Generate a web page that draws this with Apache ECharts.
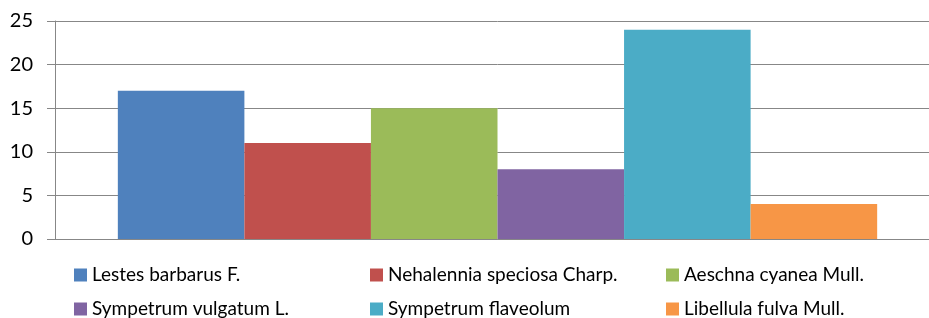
<!DOCTYPE html>
<html>
<head>
<meta charset="utf-8">
<script src="https://cdn.jsdelivr.net/npm/echarts@6/dist/echarts.min.js"></script>
<style>
  html, body { margin: 0; padding: 0; background: #fff; overflow: hidden; }
  /* 绘图区右侧超出画面，所以容器比窗口宽一些 */
  #chart { width: 940px; height: 318px; }
</style>
</head>
<body>
<div id="chart"></div>
<script>
// 数据
const seriesNames = ['Lestes barbarus F.', 'Nehalennia speciosa Charp.', 'Aeschna cyanea Mull.',
  'Sympetrum vulgatum L.', 'Sympetrum flaveolum', 'Libellula fulva Mull.']
const seriesValues = [17, 11, 15, 8, 24, 4]
const colors = ['#4F81BD', '#C0504D', '#9BBB59', '#8064A2', '#4BACC6', '#F79646']
const yTicks = [0, 5, 10, 15, 20, 25]

const font = 'Lato, "Open Sans", sans-serif'
const gridColor = '#878787'

const chart = echarts.init(document.getElementById('chart'))

// 图例：两行三列
const legendLeft = [74, 370, 666]
const legendTop = [265, 299]
const legends = seriesNames.map((name, i) => ({
  data: [name],
  left: legendLeft[i % 3],
  top: legendTop[Math.floor(i / 3)],
  padding: 0,
  itemWidth: 13,
  itemHeight: 13,
  icon: 'rect',
  selectedMode: false,
  textStyle: { fontFamily: font, fontSize: 19, color: '#000', lineHeight: 20 }
}))

const option = {
  animation: false,
  color: colors,
  legend: legends,
  grid: { left: 55, right: 0, top: 21, bottom: 79 },
  xAxis: {
    type: 'category',
    data: [''],
    axisLine: { lineStyle: { color: gridColor } },
    axisTick: { show: false },
    axisLabel: { show: false }
  },
  yAxis: {
    type: 'value',
    min: yTicks[0],
    max: yTicks[yTicks.length - 1],
    interval: 5,
    axisLine: { show: true, lineStyle: { color: gridColor } },
    axisTick: { show: true, length: 8, lineStyle: { color: gridColor } },
    splitLine: { lineStyle: { color: gridColor } },
    axisLabel: { margin: 22, fontFamily: font, fontSize: 20, color: '#000' }
  },
  series: seriesNames.map((name, i) => ({
    name: name,
    type: 'bar',
    data: [seriesValues[i]],
    barGap: '0%',
    barCategoryGap: '14.2%'
  }))
}

chart.setOption(option)
</script>
</body>
</html>
